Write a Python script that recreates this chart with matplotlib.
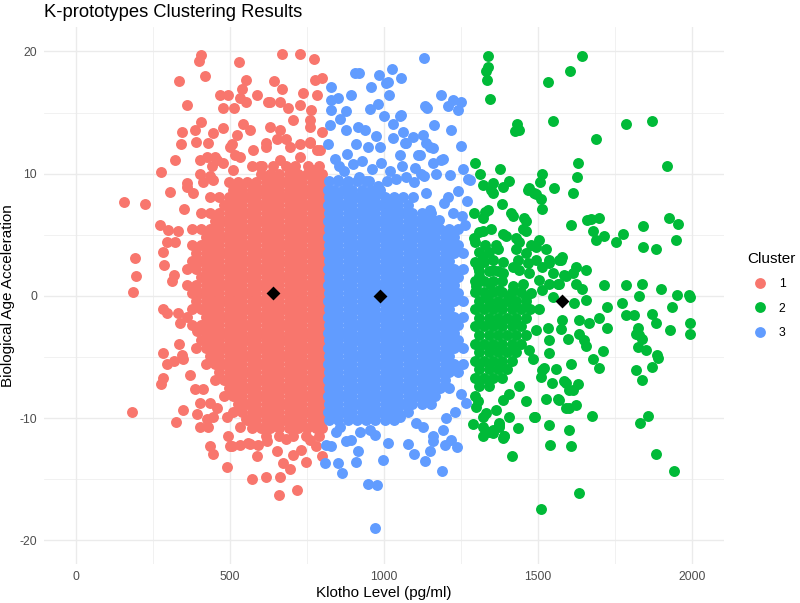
import matplotlib.pyplot as plt
from matplotlib.lines import Line2D

plt.rcParams['font.family'] = ['Liberation Sans', 'DejaVu Sans']
plt.rcParams['axes.unicode_minus'] = False

# cluster colours (ggplot default hue palette)
cluster_labels = ['1', '2', '3']
cluster_colors = ['#F8766D', '#00BA38', '#619CFF']

# cluster prototypes (black diamonds)
center_x = [638, 1580, 987]
center_y = [0.25, -0.4, 0.0]

# scattered points (klotho, age acceleration)
red_pts = [
    (405, 19.7), (400, 19.2), (418, 18.0), (529, 19.1), (335, 17.6), (553, 17.7),
    (537, 16.9), (467, 16.4), (494, 16.4), (532, 16.2), (553, 15.9), (588, 16.4),
    (624, 15.9), (478, 15.4), (513, 15.4), (359, 15.6), (405, 14.2), (386, 13.6),
    (343, 13.4), (340, 12.4), (389, 12.6), (429, 12.5), (445, 13.3), (476, 13.7),
    (543, 14.1), (564, 13.6), (521, 13.2), (505, 12.4), (516, 11.5), (321, 11.1),
    (402, 11.1), (424, 11.4), (451, 11.4), (476, 10.9), (440, 10.6), (276, 10.1),
    (305, 8.5), (359, 8.9), (380, 8.4), (413, 9.3), (435, 9.8), (156, 7.7),
    (222, 7.5), (350, 7.1), (272, 5.8), (299, 5.4), (330, 5.3), (294, 4.4),
    (321, 4.4), (283, 3.6), (285, 2.5), (316, 1.7), (310, 1.2), (191, 3.1),
    (195, 1.6), (183, 0.3), (670, 19.8), (726, 19.8), (773, 19.4), (642, 17.6),
    (667, 16.9), (800, 17.8), (775, 17.7), (737, 16.6), (781, 16.4), (629, 15.9),
    (662, 15.9), (688, 15.4), (726, 15.6), (764, 15.2), (705, 14.4), (759, 14.4),
    (797, 13.4), (759, 13.8), (629, 13.8), (662, 13.6), (618, 12.2), (683, 12.8),
    (726, 12.4), (759, 12.6), (781, 11.9), (499, 12.2), (532, 11.4), (573, 11.9),
    (618, 12.5), (651, 12.8), (694, 12.2), (726, 11.4), (759, 12.5), (791, 11.9),
    (662, 11.1), (597, 10.6), (510, 10.3), (456, 11.1), (402, 10.0), (359, 9.2),
    (445, 9.5), (532, 8.9), (618, 9.7), (705, 10.0), (769, 10.3),
    (790, 10.6), (752, 10.6), (712, 10.6), (680, 10.6), (640, 10.6), (603, 10.6), (570, 10.6),
    (283, -1.1), (294, -1.4), (332, -1.4), (337, -2.2), (359, -1.7), (391, -2.9),
    (335, -3.9), (283, -4.7), (294, -5.6), (316, -5.3), (348, -5.2), (370, -6.5),
    (281, -6.7), (275, -7.2), (386, -7.6), (402, -8.8), (413, -7.6), (181, -9.5),
    (348, -9.3), (323, -10.3), (391, -9.7), (424, -10.1), (429, -10.7), (445, -9.9),
    (435, -12.3), (445, -12.9), (489, -14.0), (494, -11.5), (505, -12.3), (532, -12.2),
    (564, -12.1), (591, -12.2), (586, -13.1), (572, -15.0), (618, -14.8), (532, -10.7),
    (553, -10.1), (489, -9.9), (456, -9.2), (435, -8.8), (662, -14.8), (716, -15.9),
    (659, -16.3), (651, -12.7), (672, -13.7), (694, -14.2), (705, -13.0), (748, -13.6),
    (797, -13.1), (499, -12.3), (559, -12.0), (780, -12.3), (760, -11.8), (730, -12.6),
    (620, -11.9), (680, -11.7), (343, -4.8), (402, -10.7),
    (790, -11.45), (745, -11.45), (705, -11.45), (660, -11.45), (615, -11.45),
]

blue_pts = [
    (1130, 19.5), (905, 18.2), (919, 18.2), (984, 18.1), (1026, 18.6), (1054, 17.8),
    (1013, 17.5), (1005, 17.4), (829, 17.1), (959, 17.1), (1016, 16.4), (892, 16.4),
    (829, 16.0), (851, 16.2), (1186, 16.4), (1224, 16.0), (1251, 15.9), (1207, 15.5),
    (1240, 15.2), (1134, 15.5), (1141, 15.4), (953, 15.3), (980, 15.7), (829, 15.2),
    (878, 15.1), (856, 14.5), (824, 14.0), (999, 14.7), (1051, 14.7), (1161, 14.0),
    (1219, 13.6), (1251, 12.3), (878, 13.6), (916, 13.8), (937, 13.6), (975, 13.1),
    (1029, 14.1), (1061, 13.4), (1094, 13.0), (1126, 13.2), (1137, 12.5), (1159, 12.1),
    (1072, 12.5), (1029, 12.9), (818, 12.4), (910, 12.4), (948, 12.2), (986, 12.2),
    (880, 11.6), (854, 10.6), (1116, 11.5), (1051, 11.5), (1191, 11.2), (1159, 10.9),
    (1256, 10.4), (1278, 9.5), (1056, 14.8), (1148, 12.2), (1067, 12.5), (1110, 11.5),
    (1186, 11.1), (1170, 10.0), (1121, 10.0), (1099, 9.3), (1213, 9.9), (1273, 9.6),
    (1240, 8.6), (1208, 8.1), (1269, 7.8), (1194, 7.6), (1151, 7.0), (1224, 6.8),
    (1180, 6.2), (1137, 8.4), (1072, 9.7), (1094, 8.1), (840, 11.2), (870, 10.2),
    (900, 10.8), (930, 11.0), (960, 10.4), (990, 10.9), (1020, 10.2), (1040, 9.6),
    (850, 9.5), (880, 9.2), (920, 9.7), (950, 9.4), (980, 9.0), (1010, 9.4),
    (1060, 10.6), (1100, 10.5), (1130, 9.8), (1255, 6.5), (1262, 5.8),
    (813, -12.2), (829, -12.3), (808, -13.7), (851, -13.7), (862, -14.5), (894, -11.8),
    (916, -12.7), (910, -13.6), (948, -15.4), (977, -15.5), (972, -19.0), (997, -13.4),
    (1013, -12.0), (953, -11.0), (970, -11.4), (1078, -12.1), (1099, -12.9), (1134, -13.5),
    (1148, -12.7), (1159, -11.9), (1189, -14.3), (1197, -12.2), (1218, -11.8), (1237, -12.4),
    (1105, -10.4), (1126, -10.7), (1159, -11.5), (1191, -11.0), (1202, -10.0), (1267, -8.8),
    (845, -11.1), (878, -11.9), (921, -11.1), (856, -10.7), (1008, -10.0), (1051, -9.9),
    (1230, -9.5), (1250, -8.0),
]

green_pts = [
    (1337, 19.6), (1337, 18.7), (1330, 18.4), (1334, 17.7), (1343, 16.1), (1643, 19.6),
    (1604, 18.4), (1532, 17.5), (1431, 14.1), (1427, 13.5), (1438, 13.6), (1548, 14.3),
    (1786, 14.1), (1870, 14.3), (1689, 12.8), (1919, 10.6), (1630, 10.9), (1626, 9.7),
    (1613, 8.4), (1553, 8.8), (1513, 10.0), (1507, 9.3), (1467, 8.7), (1489, 8.4),
    (1510, 7.9), (1512, 7.1), (1377, 10.4), (1312, 10.0), (1297, 10.9), (1321, 9.1),
    (1353, 9.2), (1407, 9.4), (1386, 8.9), (1353, 8.4), (1348, 8.7), (1472, 8.8),
    (1494, 8.3), (1383, 7.5), (1413, 6.8), (1418, 6.5), (1294, 6.8), (1327, 6.9),
    (1337, 7.0), (1321, 6.4), (1456, 6.4), (1462, 6.1), (1451, 5.5), (1462, 5.3),
    (1608, 5.8), (1661, 6.2), (1672, 6.3), (1699, 6.4), (1678, 5.3), (1689, 4.6),
    (1716, 4.9), (1753, 4.4), (1777, 5.1), (1842, 5.7), (1926, 6.4), (1956, 5.9),
    (1948, 4.6), (1843, 4.0), (1883, 3.8), (1294, 4.7), (1321, 5.3), (1348, 5.5),
    (1386, 5.1), (1397, 4.9), (1327, 4.2), (1364, 4.2), (1370, 3.8), (1429, 4.7),
    (1440, 4.4), (1505, 4.6), (1494, 4.0), (1478, 4.2), (1527, 3.8), (1462, 3.5),
    (1429, 3.8), (1434, 2.9), (1467, 2.7), (1494, 2.9), (1515, 2.4), (1537, 2.7),
    (1570, 2.9), (1580, 3.2), (1548, 1.9), (1624, 2.4), (1613, 1.9), (1656, 2.1),
    (1591, 1.6), (1570, 1.0), (1624, 1.0), (1537, 1.0), (1505, 1.3), (1472, 1.9),
    (1440, 2.1), (1418, 2.4), (1386, 2.8), (1353, 2.9), (1321, 3.2), (1305, 2.4),
    (1310, 1.6), (1353, 2.1), (1386, 1.9), (1343, 1.0), (1299, 0.8), (1375, 0.5),
    (1418, 0.8), (1451, 1.0), (1478, 0.2), (1515, 0.5), (1548, -0.1), (1462, -0.1),
    (1407, -0.1), (1332, -0.1), (1575, 2.9), (1537, 2.9), (1564, 1.0), (1645, 0.6),
    (1586, 1.7), (1716, 0.9), (1786, 0.9), (1840, 1.0), (1899, 0.6), (1953, 0.1),
    (1991, 0.1), (1829, 0.0), (1993, -0.1), (1937, -0.9), (1993, -2.2), (1993, -3.1),
    (1930, -2.8), (1870, -1.5), (1883, -2.2), (1824, -2.6), (1829, -3.2), (1824, -4.2),
    (1851, -4.4), (1888, -4.8), (1891, -5.1), (1872, -5.8), (1818, -6.1), (1838, -6.9),
    (1859, -9.8), (1832, -10.4), (1883, -12.9), (1943, -14.3), (1634, -16.1), (1510, -17.4),
    (1675, -9.8), (1537, -10.6), (1602, -11.0), (1539, -12.2), (1608, -12.3), (1434, -10.8),
    (1415, -13.1), (1386, -11.6), (1492, -9.9), (1375, -10.7), (1353, -11.2), (1391, -11.5),
    (1559, -6.0), (1608, -5.6), (1546, -7.1), (1586, -7.0), (1629, -7.2), (1602, -7.7),
    (1527, -8.4), (1564, -8.4), (1624, -8.9), (1591, -9.2), (1521, -5.9), (1510, -6.6),
    (1537, -4.7), (1537, -3.6), (1597, -3.5), (1575, -2.7), (1580, -2.0), (1634, -2.0),
    (1634, -3.1), (1656, -4.1), (1678, -5.2), (1699, -5.9), (1712, -4.5), (1726, -2.6),
    (1667, -2.2), (1699, -1.8), (1726, -0.9), (1775, -0.6), (1786, -1.6), (1813, -1.6),
    (1818, -3.1), (1840, -3.5), (1656, -0.3), (1532, -2.6), (1472, -4.4), (1483, -5.2),
    (1462, -8.6), (1494, -2.8), (1299, -9.1), (1288, -10.5), (1321, -10.7), (1340, -11.1),
    (1373, -10.6), (1389, -11.5), (1505, -1.1), (1515, -6.1), (1618, -0.6), (1651, -3.6),
    (1591, -7.1), (1613, -7.7), (1570, -8.5), (1602, -9.2), (1489, -9.9), (1440, -7.4),
    (1407, -8.0), (1386, -8.5), (1364, -9.3), (1332, -9.6), (1321, -9.9), (1353, -11.0),
    (1321, -11.5), (1375, -10.4), (1407, -9.9), (1295, -8.2), (1305, -8.6),
]

# solid cores of each cluster: rows of overlapping points (y, column set, count from the cluster boundary)
red_cols_a = [795, 765, 735, 705, 675, 645, 615, 585, 555, 525, 495, 465, 435, 405, 375]
red_cols_b = [798, 780, 750, 720, 690, 660, 630, 600, 570, 540, 510, 480, 450, 420, 390, 360]
red_rows = [
    (10.0, 'b', 8), (9.35, 'a', 11), (8.7, 'b', 11), (8.05, 'a', 13), (7.4, 'b', 12),
    (6.75, 'a', 14), (6.1, 'b', 13), (5.45, 'a', 15), (4.8, 'b', 14), (4.15, 'a', 15),
    (3.5, 'b', 15), (2.85, 'a', 15), (2.2, 'b', 16), (1.55, 'a', 14), (0.9, 'b', 16),
    (0.25, 'a', 15), (-0.4, 'b', 15), (-1.05, 'a', 15), (-1.7, 'b', 14), (-2.35, 'a', 15),
    (-3.0, 'b', 14), (-3.65, 'a', 14), (-4.3, 'b', 15), (-4.95, 'a', 13), (-5.6, 'b', 14),
    (-6.25, 'a', 12), (-6.9, 'b', 13), (-7.55, 'a', 11), (-8.2, 'b', 12), (-8.85, 'a', 10),
    (-9.5, 'b', 11), (-10.15, 'a', 9), (-10.8, 'b', 9),
]

blue_cols_a = [822, 852, 882, 912, 942, 972, 1002, 1032, 1062, 1092, 1122, 1152, 1182, 1212, 1242]
blue_cols_b = [818, 837, 867, 897, 927, 957, 987, 1017, 1047, 1077, 1107, 1137, 1167, 1197, 1227, 1257]
blue_rows = [
    (9.4, 'a', 5), (8.7, 'b', 7), (8.05, 'a', 9), (7.4, 'b', 10), (6.75, 'a', 12),
    (6.1, 'b', 13), (5.45, 'a', 15), (4.8, 'b', 15), (4.15, 'a', 15), (3.5, 'b', 16),
    (2.85, 'a', 14), (2.2, 'b', 16), (1.55, 'a', 15), (0.9, 'b', 15), (0.25, 'a', 15),
    (-0.4, 'b', 16), (-1.05, 'a', 14), (-1.7, 'b', 16), (-2.35, 'a', 15), (-3.0, 'b', 15),
    (-3.65, 'a', 15), (-4.3, 'b', 16), (-4.95, 'a', 14), (-5.6, 'b', 16), (-6.25, 'a', 15),
    (-6.9, 'b', 14), (-7.55, 'a', 14), (-8.2, 'b', 13), (-8.85, 'a', 12), (-9.5, 'b', 10),
    (-10.15, 'a', 8),
]

green_cols_a = [1295, 1325, 1355, 1385, 1415, 1445, 1475]
green_cols_b = [1310, 1340, 1370, 1400, 1430, 1460]
green_rows = [
    (5.2, 'b', 1), (4.4, 'a', 1), (3.6, 'b', 2), (2.8, 'a', 2), (2.0, 'b', 3), (1.2, 'a', 4),
    (0.3, 'a', 6), (-0.4, 'b', 6), (-1.1, 'a', 7), (-1.8, 'b', 6), (-2.5, 'a', 6),
    (-3.2, 'b', 6), (-3.9, 'a', 6), (-4.6, 'b', 5), (-5.3, 'a', 5), (-6.0, 'b', 4),
    (-6.7, 'a', 4), (-7.4, 'b', 2),
]


def cluster_xy(pts, rows, cols_a, cols_b):
    xs = [p[0] for p in pts]
    ys = [p[1] for p in pts]
    for y, which, n in rows:
        cols = cols_a if which == 'a' else cols_b
        for x in cols[:n]:
            xs.append(x)
            ys.append(y)
    return xs, ys


clusters = {
    '1': cluster_xy(red_pts, red_rows, red_cols_a, red_cols_b),
    '2': cluster_xy(green_pts, green_rows, green_cols_a, green_cols_b),
    '3': cluster_xy(blue_pts, blue_rows, blue_cols_a, blue_cols_b),
}

fig = plt.figure(figsize=(8, 6.03), dpi=100)
ax = fig.add_axes([0.055, 0.0655, 0.85, 0.8897])

# red first, then blue, then green on top
for lab in ['1', '3', '2']:
    xs, ys = clusters[lab]
    col = cluster_colors[cluster_labels.index(lab)]
    ax.scatter(xs, ys, s=62, color=col, linewidths=0, zorder=2)

ax.scatter(center_x, center_y, s=50, marker='D', color='black', linewidths=0, zorder=3)

ax.set_xlim(-105, 2105)
ax.set_ylim(-21.9, 22.0)
ax.set_xticks([0, 500, 1000, 1500, 2000])
ax.set_xticks([250, 750, 1250, 1750], minor=True)
ax.set_yticks([-20, -10, 0, 10, 20])
ax.set_yticks([-15, -5, 5, 15], minor=True)
ax.grid(which='major', color='#EBEBEB', linewidth=1.0, zorder=0)
ax.grid(which='minor', color='#EBEBEB', linewidth=0.5, zorder=0)
ax.set_axisbelow(True)
for sp in ax.spines.values():
    sp.set_visible(False)
ax.tick_params(which='both', length=0)
ax.tick_params(axis='x', labelsize=8.8, labelcolor='#4D4D4D', pad=5.5)
ax.tick_params(axis='y', labelsize=8.8, labelcolor='#4D4D4D', pad=5)

ax.set_xlabel('Klotho Level (pg/ml)', fontsize=11, labelpad=2)
ax.set_ylabel('Biological Age Acceleration', fontsize=11, labelpad=3)
ax.set_title('K-prototypes Clustering Results', fontsize=13.2, loc='left', pad=7)

handles = [Line2D([], [], linestyle='none', marker='o', markersize=7.8,
                  markerfacecolor=c, markeredgewidth=0) for c in cluster_colors]
leg = ax.legend(handles, cluster_labels, title='Cluster', loc='upper left',
                bbox_to_anchor=(741 / 800, 1 - 246 / 603), bbox_transform=fig.transFigure,
                frameon=False, fontsize=8.8, title_fontsize=11, borderpad=0,
                handlelength=2.1, handletextpad=0.5, labelspacing=1.0,
                alignment='left')

fig.savefig('out.png', dpi=100)
